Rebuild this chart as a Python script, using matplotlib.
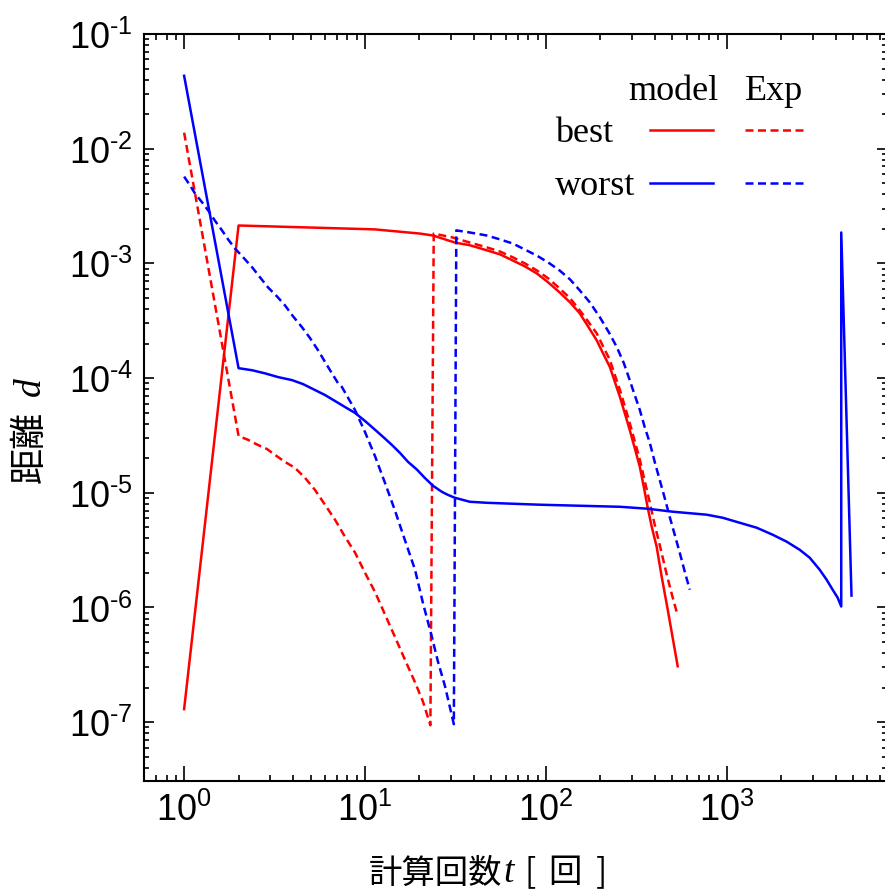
import numpy as np
import matplotlib
matplotlib.use('Agg')
import matplotlib.pyplot as plt
from matplotlib.lines import Line2D
from matplotlib.ticker import LogLocator, FuncFormatter, NullFormatter

# iteration count t and distance d for each run
best_model_t = [1, 2, 11.3, 20.1, 23.8, 31.4, 38.0, 47.2, 55.7, 65.7, 76.6,
                89.1, 103, 119, 136, 154, 171, 191, 207, 226, 241, 257, 273,
                291, 310, 331, 348, 366, 385, 410, 437, 472, 536]
best_model_d = [1.30e-7, 2.14e-3, 1.98e-3, 1.82e-3, 1.75e-3, 1.52e-3, 1.44e-3,
                1.30e-3, 1.20e-3, 1.06e-3, 9.42e-4, 8.18e-4, 6.84e-4, 5.60e-4,
                4.58e-4, 3.67e-4, 2.83e-4, 2.14e-4, 1.65e-4, 1.25e-4, 9.23e-5,
                6.84e-5, 4.97e-5, 3.53e-5, 2.46e-5, 1.68e-5, 1.13e-5, 7.41e-6,
                5.06e-6, 3.39e-6, 1.86e-6, 9.6e-7, 3.07e-7]

best_exp_t = [1, 2, 2.26, 2.56, 2.87, 3.18, 3.61, 4.10, 4.66, 5.29, 6.01, 6.83,
              7.75, 8.81, 10.0, 11.4, 12.9, 14.6, 16.6, 18.9, 20.9, 23,
              24, 30.6, 38.0, 47.2, 55.7, 65.7, 76.6, 89.1, 103, 119, 136, 154,
              171, 191, 207, 226, 241, 257, 273, 291, 310, 331, 352, 376, 400,
              426, 466, 503, 536]
best_exp_d = [1.38e-2, 3.13e-5, 2.89e-5, 2.61e-5, 2.41e-5, 2.14e-5, 1.86e-5,
              1.65e-5, 1.35e-5, 1.06e-5, 7.87e-6, 5.82e-6, 4.14e-6, 3.01e-6,
              2.01e-6, 1.35e-6, 8.69e-7, 5.60e-7, 3.53e-7, 2.23e-7, 1.52e-7,
              9.4e-8,
              1.82e-3, 1.68e-3, 1.52e-3, 1.38e-3, 1.27e-3, 1.13e-3, 1.00e-3,
              8.69e-4, 7.41e-4, 6.07e-4, 4.97e-4, 3.90e-4, 3.13e-4, 2.46e-4,
              1.90e-4, 1.44e-4, 1.06e-4, 7.87e-5, 5.71e-5, 4.06e-5, 2.83e-5,
              1.94e-5, 1.27e-5, 8.18e-6, 5.27e-6, 3.53e-6, 1.94e-6, 1.22e-6,
              8.5e-7]

worst_model_t = [1, 2, 2.38, 2.80, 3.31, 3.95, 4.54, 5.29, 6.01, 6.83, 7.75,
                 8.81, 10.0, 11.4, 12.6, 14.1, 15.6, 17.3, 19.4, 21.4, 23.8,
                 26.6, 28.7, 31.4, 38.0, 47.2, 92.6, 257, 366, 503, 776, 950,
                 1180, 1465, 1795, 2145, 2530, 2875, 3264, 3566, 3853, 4105,
                 4300, 4301, 4900]
worst_model_d = [4.32e-2, 1.22e-4, 1.17e-4, 1.10e-4, 1.02e-4, 9.6e-5, 8.87e-5,
                 7.87e-5, 7.12e-5, 6.31e-5, 5.60e-5, 4.97e-5, 4.23e-5, 3.53e-5,
                 3.07e-5, 2.61e-5, 2.23e-5, 1.86e-5, 1.59e-5, 1.35e-5, 1.15e-5,
                 1.02e-5, 9.6e-6, 9.05e-6, 8.35e-6, 8.18e-6, 7.87e-6, 7.55e-6,
                 7.26e-6, 6.84e-6, 6.44e-6, 6.06e-6, 5.48e-6, 4.96e-6, 4.31e-6,
                 3.75e-6, 3.19e-6, 2.72e-6, 2.14e-6, 1.75e-6, 1.43e-6, 1.22e-6,
                 1.02e-6, 1.86e-3, 1.27e-6]

worst_exp_t = [1, 1.08, 1.15, 1.26, 1.36, 1.48, 1.62, 1.75, 1.91, 2.12, 2.38,
               2.63, 2.91, 3.26, 3.61, 4.00, 4.49, 4.97, 5.50, 6.25, 7.09, 7.46,
               8.81, 10.0, 11.4, 12.9, 14.6, 16.6, 18.9, 20.9, 23.4, 25.3, 27.7,
               31,
               32, 38.0, 47.2, 55.7, 65.7, 76.6, 89.1, 103, 119, 136, 154, 175,
               199, 223, 247, 270, 291, 310, 331, 352, 376, 400, 426, 454, 484,
               516, 550, 586, 625]
worst_exp_d = [5.71e-3, 4.77e-3, 4.06e-3, 3.39e-3, 2.89e-3, 2.36e-3, 1.94e-3,
               1.62e-3, 1.35e-3, 1.13e-3, 9.23e-4, 7.55e-4, 6.18e-4, 5.16e-4,
               4.31e-4, 3.46e-4, 2.77e-4, 2.23e-4, 1.75e-4, 1.25e-4, 9.05e-5,
               8.35e-5, 5.27e-5, 3.39e-5, 2.06e-5, 1.22e-5, 7.11e-6, 3.90e-6,
               2.14e-6, 1.10e-6, 5.60e-7, 3.39e-7, 2.06e-7, 9.6e-8,
               1.94e-3, 1.86e-3, 1.75e-3, 1.62e-3, 1.49e-3, 1.32e-3, 1.17e-3,
               1.02e-3, 8.69e-4, 7.26e-4, 5.82e-4, 4.58e-4, 3.39e-4, 2.51e-4,
               1.86e-4, 1.35e-4, 9.6e-5, 7.12e-5, 5.27e-5, 3.75e-5, 2.72e-5,
               1.86e-5, 1.30e-5, 9.05e-6, 6.18e-6, 4.31e-6, 3.01e-6, 2.06e-6,
               1.43e-6]

plt.rcParams['font.family'] = ['Liberation Sans', 'DejaVu Sans']
plt.rcParams['mathtext.fontset'] = 'custom'
plt.rcParams['mathtext.rm'] = 'Liberation Sans'
plt.rcParams['mathtext.it'] = 'Liberation Sans:italic'
plt.rcParams['mathtext.default'] = 'regular'

W, H = 885, 895
fig = plt.figure(figsize=(W / 100, H / 100), dpi=100)


def fx(px):
    return px / W


def fy(py):
    return 1 - py / H


ax = fig.add_axes([fx(144), fy(782), fx(887) - fx(144), fy(35) - fy(782)])

lw = 1.8
dash = (0, (3.2, 1.8))
ax.plot(best_model_t, best_model_d, color='red', lw=lw)
ax.plot(best_exp_t, best_exp_d, color='red', lw=lw, ls=dash)
ax.plot(worst_model_t, worst_model_d, color='blue', lw=lw)
ax.plot(worst_exp_t, worst_exp_d, color='blue', lw=lw, ls=dash)

ax.set_xscale('log')
ax.set_yscale('log')
ax.set_xlim(0.6, 7700)
ax.set_ylim(3.07e-8, 0.1)

for axis in (ax.xaxis, ax.yaxis):
    axis.set_major_locator(LogLocator(base=10, numticks=20))
    axis.set_minor_locator(LogLocator(base=10, subs=np.arange(2, 10), numticks=20))
    axis.set_minor_formatter(NullFormatter())
    axis.set_major_formatter(FuncFormatter(
        lambda v, pos: r'$10^{\text{%d}}$' % int(round(np.log10(v)))))

for s in ax.spines.values():
    s.set_linewidth(1.5)

ax.tick_params(which='both', direction='in', top=True, right=True,
               labelsize=26, width=1.2)
ax.tick_params(axis='x', which='major', length=11, pad=8)
ax.tick_params(axis='x', which='minor', length=4.5)
ax.tick_params(axis='y', which='major', length=7, pad=8)
ax.tick_params(axis='y', which='minor', length=3.8)

# axis labels: CJK text with italic variable names
cjk = ['Noto Sans CJK JP', 'DejaVu Sans']
ly = 873
fig.text(fx(436), fy(ly), '計算回数', family=cjk, size=24, ha='center', va='center')
fig.text(fx(509), fy(ly), 't', family='Liberation Serif', style='italic',
         size=27, ha='center', va='center')
fig.text(fx(530), fy(ly), '[', family=cjk, size=24, ha='center', va='center')
fig.text(fx(565), fy(ly), '回', family=cjk, size=24, ha='center', va='center')
fig.text(fx(601), fy(ly), ']', family=cjk, size=24, ha='center', va='center')
fig.text(fx(30), fy(447), '距離', family=cjk, size=26, rotation=90,
         ha='center', va='center')
fig.text(fx(31), fy(387), 'd', family='Liberation Serif', style='italic',
         size=27, rotation=90, ha='center', va='center')

# legend laid out as a small table
serif = 'Liberation Serif'
fig.text(fx(628), fy(100), 'model', family=serif, size=26, va='baseline')
fig.text(fx(745), fy(100), 'Exp', family=serif, size=26, va='baseline')
fig.text(fx(555), fy(142), 'best', family=serif, size=26, va='baseline')
fig.text(fx(555), fy(195), 'worst', family=serif, size=26, va='baseline')
for py, c in ((131, 'red'), (184, 'blue')):
    fig.add_artist(Line2D([fx(650), fx(713)], [fy(py), fy(py)],
                          transform=fig.transFigure, color=c, lw=lw))
    fig.add_artist(Line2D([fx(745), fx(805)], [fy(py), fy(py)],
                          transform=fig.transFigure, color=c, lw=lw, ls=dash))

fig.savefig('out.png', dpi=100)
